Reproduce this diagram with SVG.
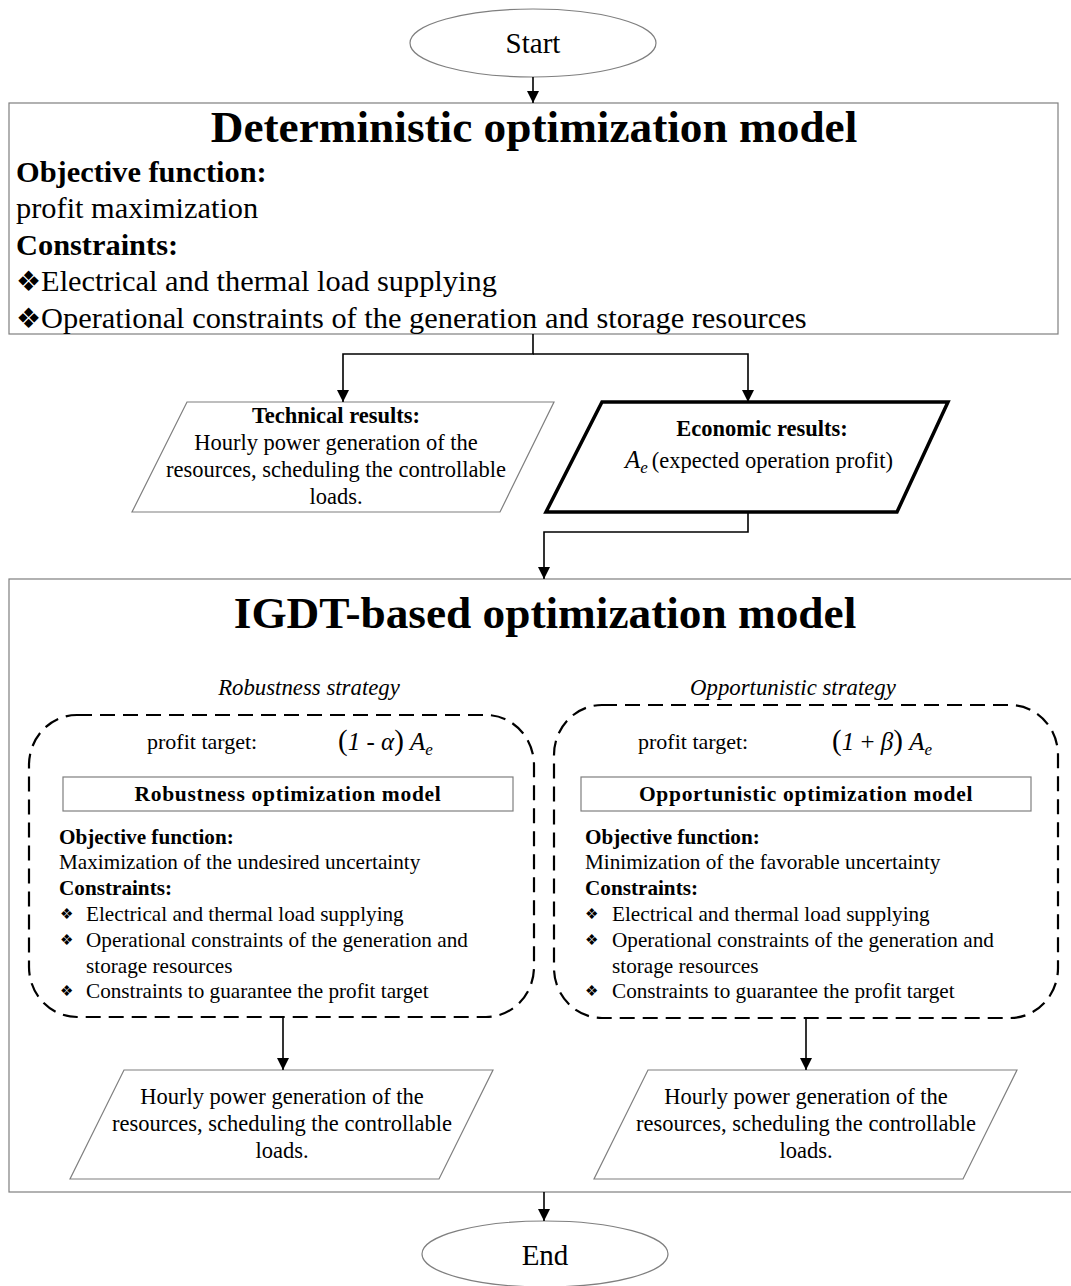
<svg xmlns="http://www.w3.org/2000/svg" width="1071" height="1286" viewBox="0 0 1071 1286">
<defs>
<style>
text{font-family:"Liberation Serif","Times New Roman",serif;fill:#000}
.b{font-weight:bold}
.i{font-style:italic}
.big{font-size:30.4px}
.title{font-size:45.3px;font-weight:bold;text-anchor:middle}
.mid{font-size:22.5px}
.sm{font-size:21.2px}
.hd{font-size:21.5px;font-weight:bold;text-anchor:middle;letter-spacing:0.7px}
.c{text-anchor:middle}
.thin{fill:#fff;stroke:#7f7f7f;stroke-width:1.2}
.dash{fill:none;stroke:#000;stroke-width:2.2;stroke-dasharray:15 8}
.conn{fill:none;stroke:#000;stroke-width:1.6}
.sym{font-family:"DejaVu Sans",sans-serif;fill:#000}
</style>
<marker id="ah" markerUnits="userSpaceOnUse" markerWidth="12" markerHeight="13" refX="12" refY="6" orient="auto" viewBox="0 0 12 12">
<path d="M0,0 L12,6 L0,12 Z" fill="#000"/>
</marker>
</defs>
<rect width="1071" height="1286" fill="#fff"/>

<g id="start">
<ellipse cx="533" cy="43" rx="123" ry="34" class="thin"/>
<text x="533" y="53" class="c" font-size="29">Start</text>
</g>

<g id="deterministic">
<rect x="9" y="103" width="1049" height="231" class="thin"/>
<text x="534" y="142" class="title">Deterministic optimization model</text>
<text x="16" y="182" class="big b">Objective function:</text>
<text x="16" y="218" class="big">profit maximization</text>
<text x="16" y="255" class="big b">Constraints:</text>
<text x="16" y="291" class="big"><tspan class="sym" font-size="28">❖</tspan>Electrical and thermal load supplying</text>
<text x="16" y="328" class="big"><tspan class="sym" font-size="28">❖</tspan>Operational constraints of the generation and storage resources</text>
</g>

<g id="technical">
<polygon points="187,402 554,402 500,512 132,512" class="thin"/>
<text x="336" y="423" class="mid c b">Technical results:</text>
<text x="336" y="450" class="mid c">Hourly power generation of the</text>
<text x="336" y="477" class="mid c">resources, scheduling the controllable</text>
<text x="336" y="504" class="mid c">loads.</text>
</g>

<g id="economic">
<polygon points="602,402 948,402 897,512 546,512" fill="#fff" stroke="#000" stroke-width="3.5"/>
<text x="762" y="436" class="mid c b">Economic results:</text>
<text x="625" y="468" class="mid"><tspan class="i" font-size="25">A</tspan><tspan class="i" font-size="17" dy="5">e</tspan><tspan dy="-5" dx="4">(expected operation profit)</tspan></text>
</g>

<g id="igdt">
<rect x="9" y="579" width="1075" height="613" fill="none" stroke="#7f7f7f" stroke-width="1.2"/>
<text x="545" y="628" class="title">IGDT-based optimization model</text>
<text x="309" y="695" class="c i" font-size="22.8">Robustness strategy</text>
<text x="793" y="695" class="c i" font-size="22.8">Opportunistic strategy</text>
</g>

<g id="robustness">
<rect x="29" y="715" width="505" height="302" rx="48" ry="50" class="dash"/>
<text x="147" y="749" font-size="22">profit target:</text>
<text x="338" y="750" class="i" font-size="25"><tspan font-style="normal" font-size="29">(</tspan>1<tspan font-style="normal"> - </tspan>α<tspan font-style="normal" font-size="29">)</tspan> A<tspan font-size="17" dy="5">e</tspan></text>
<rect x="63" y="777" width="450" height="34" class="thin"/>
<text x="288" y="801" class="hd">Robustness optimization model</text>
<text x="59" y="844" class="sm b">Objective function:</text>
<text x="59" y="869" class="sm">Maximization of the undesired uncertainty</text>
<text x="59" y="895" class="sm b">Constraints:</text>
<text x="60" y="919" class="sym" font-size="15">❖</text>
<text x="86" y="921" class="sm">Electrical and thermal load supplying</text>
<text x="60" y="945" class="sym" font-size="15">❖</text>
<text x="86" y="947" class="sm">Operational constraints of the generation and</text>
<text x="86" y="973" class="sm">storage resources</text>
<text x="60" y="996" class="sym" font-size="15">❖</text>
<text x="86" y="998" class="sm">Constraints to guarantee the profit target</text>
</g>

<g id="opportunistic">
<rect x="554" y="705" width="504" height="313" rx="48" ry="50" class="dash"/>
<text x="638" y="749" font-size="22">profit target:</text>
<text x="832" y="750" class="i" font-size="25"><tspan font-style="normal" font-size="29">(</tspan>1<tspan font-style="normal"> + </tspan>β<tspan font-style="normal" font-size="29">)</tspan> A<tspan font-size="17" dy="5">e</tspan></text>
<rect x="581" y="777" width="450" height="34" class="thin"/>
<text x="806" y="801" class="hd">Opportunistic optimization model</text>
<text x="585" y="844" class="sm b">Objective function:</text>
<text x="585" y="869" class="sm">Minimization of the favorable uncertainty</text>
<text x="585" y="895" class="sm b">Constraints:</text>
<text x="585" y="919" class="sym" font-size="15">❖</text>
<text x="612" y="921" class="sm">Electrical and thermal load supplying</text>
<text x="585" y="945" class="sym" font-size="15">❖</text>
<text x="612" y="947" class="sm">Operational constraints of the generation and</text>
<text x="612" y="973" class="sm">storage resources</text>
<text x="585" y="996" class="sym" font-size="15">❖</text>
<text x="612" y="998" class="sm">Constraints to guarantee the profit target</text>
</g>

<g id="result-robust">
<polygon points="124,1070 493,1070 439,1179 70,1179" class="thin"/>
<text x="282" y="1104" class="mid c">Hourly power generation of the</text>
<text x="282" y="1131" class="mid c">resources, scheduling the controllable</text>
<text x="282" y="1158" class="mid c">loads.</text>
</g>

<g id="result-opp">
<polygon points="648,1070 1017,1070 963,1179 594,1179" class="thin"/>
<text x="806" y="1104" class="mid c">Hourly power generation of the</text>
<text x="806" y="1131" class="mid c">resources, scheduling the controllable</text>
<text x="806" y="1158" class="mid c">loads.</text>
</g>

<g id="end">
<ellipse cx="545" cy="1254" rx="123" ry="33" class="thin"/>
<text x="545" y="1265" class="c" font-size="29">End</text>
</g>

<g id="connectors">
<path d="M533,77 V103" class="conn" marker-end="url(#ah)"/>
<path d="M533,334 V354 H343 V402" class="conn" marker-end="url(#ah)"/>
<path d="M533,354 H748 V402" class="conn" marker-end="url(#ah)"/>
<path d="M748,512 V532 H544 V579" class="conn" marker-end="url(#ah)"/>
<path d="M283,1017 V1070" class="conn" marker-end="url(#ah)"/>
<path d="M806,1018 V1070" class="conn" marker-end="url(#ah)"/>
<path d="M544,1192 V1221" class="conn" marker-end="url(#ah)"/>
</g>
</svg>
